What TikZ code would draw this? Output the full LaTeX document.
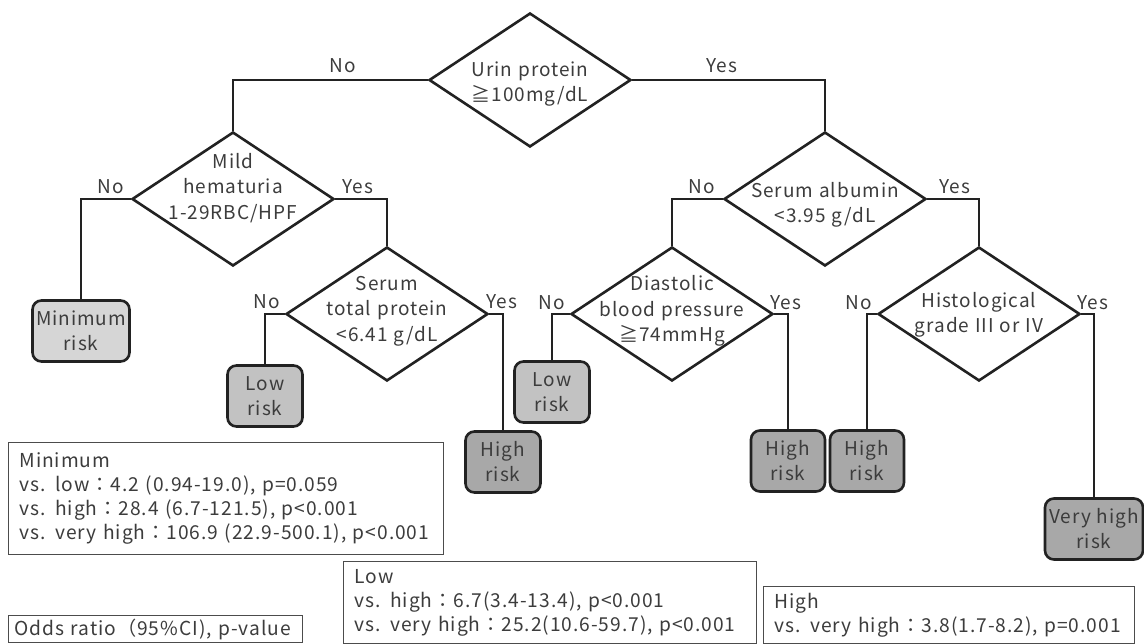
\documentclass[tikz,border=0pt]{standalone}
\usepackage{fontspec}
\setmainfont{Noto Sans CJK JP}[LetterSpace=5,WordSpace=1.15]
\usetikzlibrary{shapes.geometric}
\definecolor{txt}{HTML}{3C3C3C}
\definecolor{ln}{HTML}{222222}
\definecolor{fmin}{HTML}{D6D6D6}
\definecolor{flow}{HTML}{C2C2C2}
\definecolor{fhigh}{HTML}{A8A8A8}
\begin{document}
\begin{tikzpicture}[x=1pt,y=-1pt,
  dec/.style={draw=ln, line width=2.6pt, diamond, minimum width=202pt, minimum height=134pt, inner sep=0pt},
  dtext/.style={text=txt, align=center, inner sep=0pt, font=\fontsize{19}{25.5}\selectfont},
  risk/.style={draw=ln, line width=2.6pt, rounded corners=9pt, text=txt, align=center, inner sep=0pt, minimum height=61pt, font=\fontsize{19}{25}\selectfont},
  conn/.style={draw=ln, line width=2.6pt},
  lab/.style={text=txt, inner sep=0pt, font=\fontsize{19}{20}\selectfont},
  legend/.style={draw=black!70, line width=1pt, text=txt, anchor=north west, align=left, inner xsep=11pt, inner ysep=0pt, font=\fontsize{19.2}{24}\selectfont}
]
\useasboundingbox (0,0) rectangle (1144,644);

% decision diamonds
\node[dec] (d1) at (530,80) {};
\node[dec] (d2) at (233,199) {};
\node[dec] (d3) at (387,314) {};
\node[dec] (d4) at (825,199) {};
\node[dec] (d5) at (672,314) {};
\node[dec] (d6) at (979,314) {};

\node[dtext] (t1) at (530,84) {Urin protein\\≧100mg/dL};
\node[dtext] (t2) at (233,188) {Mild\\hematuria\\1-29RBC/HPF};
\node[dtext] (t3) at (387,311) {Serum\\total protein\\<6.41 g/dL};
\node[dtext] (t4) at (825,205) {Serum albumin\\<3.95 g/dL};
\node[dtext] (t5) at (672,311) {Diastolic\\blood pressure\\≧74mmHg};
\node[dtext] (t6) at (979,315) {Histological\\grade III or IV};

% risk boxes
\node[risk, fill=fmin, minimum width=97pt] (r1) at (81,331) {Minimum\\risk};
\node[risk, fill=flow, minimum width=75pt] (r2) at (265,396) {Low\\risk};
\node[risk, fill=fhigh, minimum width=75pt] (r3) at (503,462) {High\\risk};
\node[risk, fill=flow, minimum width=75pt] (r4) at (552,392) {Low\\risk};
\node[risk, fill=fhigh, minimum width=74pt] (r5) at (788,461) {High\\risk};
\node[risk, fill=fhigh, minimum width=74pt] (r6) at (867,461) {High\\risk};
\node[risk, fill=fhigh, minimum width=98pt] (r7) at (1094,529) {Very high\\risk};

% connectors
\draw[conn] (d1.west) -| (d2.north);
\draw[conn] (d1.east) -| (d4.north);
\draw[conn] (d2.west) -| (r1.north);
\draw[conn] (d2.east) -| (d3.north);
\draw[conn] (d3.west) -| (r2.north);
\draw[conn] (d3.east) -| (r3.north);
\draw[conn] (d4.west) -| (d5.north);
\draw[conn] (d4.east) -| (d6.north);
\draw[conn] (d5.west) -| (r4.north);
\draw[conn] (d5.east) -| (r5.north);
\draw[conn] (d6.west) -| (r6.north);
\draw[conn] (d6.east) -| (r7.north);

% branch labels
\node[lab] (l1) at (343,66) {No};
\node[lab] (l2) at (722,66) {Yes};
\node[lab] (l3) at (111,187) {No};
\node[lab] (l4) at (358,187) {Yes};
\node[lab] (l5) at (267,302) {No};
\node[lab] (l6) at (502,302) {Yes};
\node[lab] (l7) at (702,187) {No};
\node[lab] (l8) at (955,187) {Yes};
\node[lab] (l9) at (552,303) {No};
\node[lab] (l10) at (786,303) {Yes};
\node[lab] (l11) at (859,303) {No};
\node[lab] (l12) at (1093,303) {Yes};

% legends
\node[legend, minimum width=435pt, minimum height=112pt, text width=413pt] (g1) at (8,442)
  {Minimum\\vs. low：4.2 (0.94-19.0), p=0.059\\vs. high：28.4 (6.7-121.5), p<0.001\\vs. very high：106.9 (22.9-500.1), p<0.001};
\node[legend, minimum width=413pt, minimum height=82pt, text width=391pt] (g2) at (343,561)
  {Low\\vs. high：6.7(3.4-13.4), p<0.001\\vs. very high：25.2(10.6-59.7), p<0.001};
\node[legend, minimum width=371pt, minimum height=57pt, text width=349pt] (g3) at (763,586)
  {High\\vs. very high：3.8(1.7-8.2), p=0.001};
\node[legend, minimum width=294pt, minimum height=27pt, text width=282pt, inner xsep=6pt] (g4) at (8,615)
  {\mbox{Odds ratio（95\%CI), p-value}};
\end{tikzpicture}
\end{document}
